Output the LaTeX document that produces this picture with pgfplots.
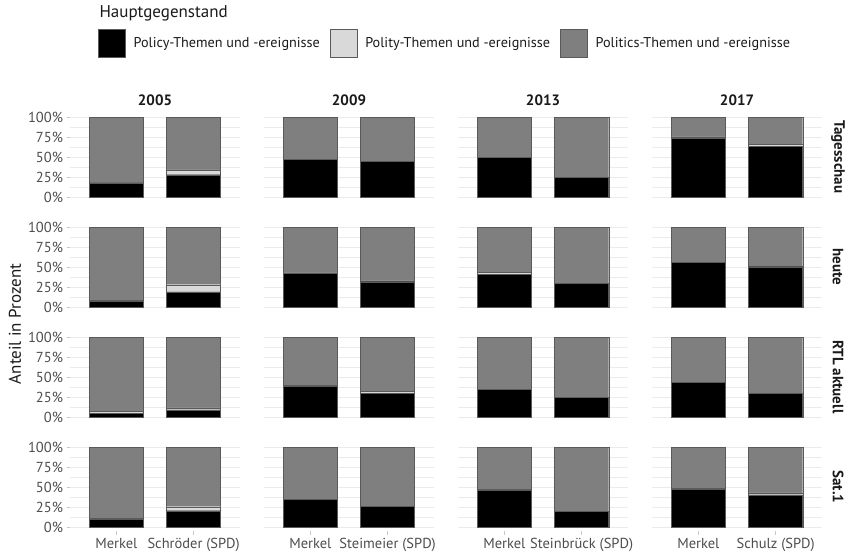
\documentclass[border=0pt]{standalone}
\usepackage{fontspec}
\setmainfont{PT Sans}
\usepackage{pgfplots}
\pgfplotsset{compat=1.18}
\usepackage{pgfplotstable}

\definecolor{gridc}{HTML}{EBEBEB}
\definecolor{tickc}{HTML}{4D4D4D}
\definecolor{tickmark}{HTML}{C8C8C8}
\definecolor{barc}{HTML}{5A5A5A}
\definecolor{polityc}{HTML}{D9D9D9}
\definecolor{politicsc}{HTML}{7F7F7F}
\definecolor{stripc}{HTML}{1A1A1A}

% x: 10*year index + candidate (1 = Merkel, 2 = SPD challenger)
\pgfplotstableread{
x  policy polity politics
1  18   0   82
2  28   6   66
11 47.5 0   52.5
12 44.5 0   55.5
21 50   0   50
22 25   0   75
31 74   1.5 24.5
32 64   2   34
}\tagesschau
\pgfplotstableread{
x  policy polity politics
1  7.5  1   91.5
2  19   9   72
11 42   1   57
12 31.5 1.5 67
21 41   3   56
22 29.5 0   70.5
31 56   0   44
32 50.5 1   48.5
}\heute
\pgfplotstableread{
x  policy polity politics
1  5    2.5 92.5
2  9    2.5 88.5
11 38.5 1.5 60
12 30   2.5 67.5
21 35   0   65
22 24.5 0   75.5
31 43.5 0   56.5
32 29.5 0   70.5
}\rtl
\pgfplotstableread{
x  policy polity politics
1  10   1   89
2  20.5 5   74.5
11 34.5 0   65.5
12 25.7 0   74.3
21 46   1   53
22 20   0   80
31 47   1.5 51.5
32 40.5 2.5 57
}\satone

\pgfplotsset{
  panel/.style={
    scale only axis, width=170pt, height=87.5pt, anchor=south west,
    ybar stacked, bar width=0.7,
    ymin=-5, ymax=105,
    ytick={0,25,50,75,100}, minor ytick={12.5,37.5,62.5,87.5},
    ymajorgrids, yminorgrids,
    major grid style={draw=gridc, line width=0.6pt},
    minor grid style={draw=gridc, line width=0.3pt},
    axis line style={draw=none},
    tick style={draw=tickmark, line width=0.5pt},
    major tick length=3.5pt, minor tick length=0pt, tick align=outside,
    ytick pos=left, xtick pos=bottom,
    yticklabels={}, xtick=\empty,
    ticklabel style={font=\fontsize{14.5}{16}\selectfont, text=tickc},
    every axis plot/.append style={draw=barc, line width=0.4pt},
  },
  firstcol/.style={yticklabels={0\%,25\%,50\%,75\%,100\%}},
  othercol/.style={ytick style={draw=none}},
  keysq/.style={legend image code/.code={\draw[##1] (0pt,-14pt) rectangle (27pt,14pt);},
    draw=barc, line width=0.4pt},
}

% #1 x, #2 y, #3 xmin, #4 xmax, #5 table, #6 extra options
\newcommand{\panel}[6]{%
  \begin{axis}[panel, at={(#1,#2)}, xmin=#3, xmax=#4, #6]
    \addplot[fill=black] table[x=x, y=policy] {#5};
    \addplot[fill=polityc] table[x=x, y=polity] {#5};
    \addplot[fill=politicsc] table[x=x, y=politics] {#5};
  \end{axis}}

\begin{document}
\begin{tikzpicture}
\path[use as bounding box] (0,0) rectangle (846pt,552pt);

% row 1: Tagesschau
\panel{70pt}{351pt}{0.4}{2.6}{\tagesschau}{firstcol}
\panel{264pt}{351pt}{10.4}{12.6}{\tagesschau}{othercol}
\panel{458pt}{351pt}{20.4}{22.6}{\tagesschau}{othercol}
\panel{652pt}{351pt}{30.4}{32.6}{\tagesschau}{othercol}
% row 2: heute
\panel{70pt}{241pt}{0.4}{2.6}{\heute}{firstcol}
\panel{264pt}{241pt}{10.4}{12.6}{\heute}{othercol}
\panel{458pt}{241pt}{20.4}{22.6}{\heute}{othercol}
\panel{652pt}{241pt}{30.4}{32.6}{\heute}{othercol}
% row 3: RTL aktuell
\panel{70pt}{131pt}{0.4}{2.6}{\rtl}{firstcol}
\panel{264pt}{131pt}{10.4}{12.6}{\rtl}{othercol}
\panel{458pt}{131pt}{20.4}{22.6}{\rtl}{othercol}
\panel{652pt}{131pt}{30.4}{32.6}{\rtl}{othercol}
% row 4: Sat.1
\panel{70pt}{21pt}{0.4}{2.6}{\satone}{firstcol, xtick={1,2}, xticklabels={Merkel, Schröder (SPD)}}
\panel{264pt}{21pt}{10.4}{12.6}{\satone}{othercol, xtick={11,12}, xticklabels={Merkel, Steimeier (SPD)}}
\panel{458pt}{21pt}{20.4}{22.6}{\satone}{othercol, xtick={21,22}, xticklabels={Merkel, Steinbrück (SPD)}}
\panel{652pt}{21pt}{30.4}{32.6}{\satone}{othercol, xtick={31,32}, xticklabels={Merkel, Schulz (SPD)}}

% legend
\begin{axis}[at={(0pt,0pt)}, anchor=south west, scale only axis,
  width=846pt, height=552pt, hide axis,
  xmin=0, xmax=846, ymin=0, ymax=552,
  legend columns=3,
  legend style={at={(0.1158,0.9212)}, anchor=west, draw=none, fill=none,
    inner sep=0pt, font=\fontsize{14.2}{16}\selectfont, text=stripc,
    nodes={inner xsep=0pt, inner ysep=0pt},
    /tikz/every odd column/.append style={column sep=8pt},
    /tikz/every even column/.append style={column sep=10pt}},
  legend cell align=left]
  \addlegendimage{keysq, fill=black}
  \addlegendentry{Policy-Themen und -ereignisse}
  \addlegendimage{keysq, fill=polityc}
  \addlegendentry{Polity-Themen und -ereignisse}
  \addlegendimage{keysq, fill=politicsc}
  \addlegendentry{Politics-Themen und -ereignisse}
\end{axis}

\node[anchor=west, font=\fontsize{17}{19}\selectfont, text=stripc] at (96pt,539pt) {Hauptgegenstand};
\node[rotate=90, font=\fontsize{17}{19}\selectfont, text=stripc] at (15pt,228pt) {Anteil in Prozent};

\foreach \x/\y in {155/2005, 349/2009, 543/2013, 737/2017}
  \node[font=\bfseries\fontsize{15}{17}\selectfont, text=stripc] at (\x pt,452pt) {\y};
\foreach \y/\t in {395/Tagesschau, 285/heute, 175/RTL aktuell, 65/Sat.1}
  \node[rotate=-90, font=\bfseries\fontsize{15}{17}\selectfont, text=stripc] at (838pt,\y pt) {\t};
\end{tikzpicture}
\end{document}
